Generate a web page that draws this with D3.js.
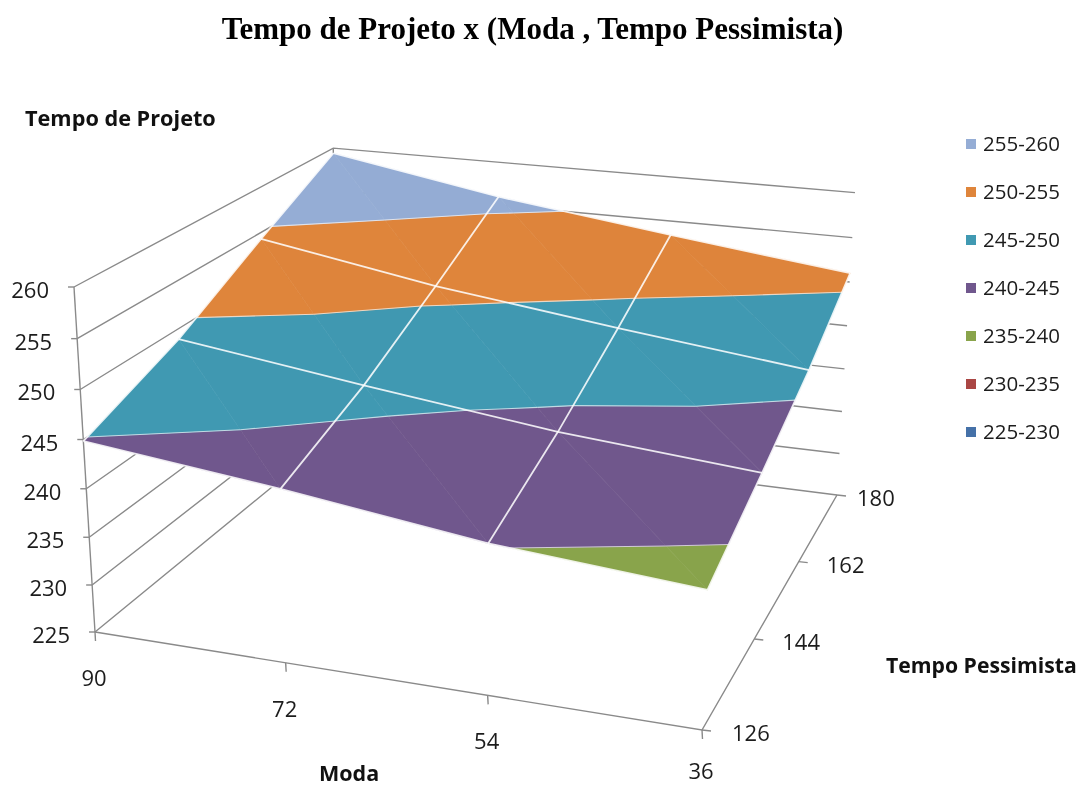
<!DOCTYPE html>
<html><head><meta charset="utf-8">
<script src="https://cdn.jsdelivr.net/npm/d3@7/dist/d3.min.js"></script>
<style>html,body{margin:0;padding:0;background:#fff}svg{display:block;filter:blur(0.35px)}</style>
</head><body><svg id="c" width="1080" height="786"></svg>
<script>
const title = "Tempo de Projeto x (Moda , Tempo Pessimista)";
const zTitle = "Tempo de Projeto", xTitle = "Moda", yTitle = "Tempo Pessimista";
const moda = [90, 72, 54, 36];
const tempo = [126, 144, 162, 180];
const valueTicks = [225, 230, 235, 240, 245, 250, 255, 260];
// one row per Tempo Pessimista, one value per Moda
const t126 = [244.85, 242.7, 240.15, 238.65];
const t144 = [248.9, 246.3, 243.9, 242.3];
const t162 = [254.3, 251.0, 248.5, 246.2];
const t180 = [259.4, 256.0, 253.4, 251.0];
const rows = [t126, t144, t162, t180];
const bandLabels = ["255-260", "250-255", "245-250", "240-245", "235-240", "230-235", "225-230"];
const bandColors = ["#95adD5", "#df853b", "#4099b2", "#70578d", "#89a44b", "#aa4644", "#4571a8"];

// ---- scales
const W = 1080, H = 786;
const uScale = d3.scalePoint().domain(moda).range([0, 1]);
const vScale = d3.scalePoint().domain(tempo).range([0, 1]);
const zScale = d3.scaleLinear().domain([225, 260]).range([0, 1]);
const bandScale = d3.scaleQuantize().domain([225, 260]).range(bandColors.slice().reverse());

// ---- perspective projection of the 3D box
const F = [[95, 632], [702, 730], [837, 495], [339, 432]]; // floor corners
const vanish = [466.5, 6732], lift = -0.05353;             // vertical vanishing point
const homog = (() => {
  const [p0, p1, p2, p3] = F;
  const dx1 = p1[0] - p2[0], dy1 = p1[1] - p2[1], dx2 = p3[0] - p2[0], dy2 = p3[1] - p2[1];
  const sx = p0[0] - p1[0] + p2[0] - p3[0], sy = p0[1] - p1[1] + p2[1] - p3[1];
  const den = dx1 * dy2 - dx2 * dy1;
  const g = (sx * dy2 - dx2 * sy) / den, h = (dx1 * sy - sx * dy1) / den;
  return { a: p1[0] - p0[0] + g * p1[0], b: p3[0] - p0[0] + h * p3[0], c: p0[0],
           d: p1[1] - p0[1] + g * p1[1], e: p3[1] - p0[1] + h * p3[1], f: p0[1], g, h };
})();
function proj(u, v, z) {
  const m = homog, k = lift * z;
  const w = 1 + m.g * u + m.h * v + k;
  return [(m.a * u + m.b * v + m.c + k * vanish[0]) / w, (m.d * u + m.e * v + m.f + k * vanish[1]) / w];
}
const P = (mo, te, val) => proj(uScale(mo), vScale(te), zScale(val));
const line = d3.line();

const svg = d3.select("#c");
svg.append("rect").attr("width", W).attr("height", H).attr("fill", "#fff");

// ---- walls
const gridCol = "#8a8a8a";
const walls = svg.append("g").attr("fill", "none").attr("stroke", gridCol).attr("stroke-width", 1.4);
const m0 = moda[0], m1 = moda[3], t0 = tempo[0], t1 = tempo[3];
valueTicks.forEach(val => {
  walls.append("path").attr("d", line([P(m0, t0, val), P(m0, t1, val), P(m1, t1, val)]));
  const a = P(m0, t0, val);
  walls.append("path").attr("d", line([a, [a[0] - 6, a[1]]]));
});
walls.append("path").attr("d", line([P(m0, t0, 225), P(m0, t0, 260)]));
walls.append("path").attr("d", line([P(m0, t1, 225), P(m0, t1, 260)]));
walls.append("path").attr("d", line([P(m0, t0, 225), P(m1, t0, 225), P(m1, t1, 225)]));
moda.forEach(mo => {
  const a = P(mo, t0, 225);
  walls.append("path").attr("d", line([a, [a[0] + 0.5, a[1] + 9]]));
});
tempo.forEach(te => {
  const a = P(m1, te, 225);
  walls.append("path").attr("d", line([a, [a[0] + 9, a[1] + 1]]));
});

// ---- surface: every cell split in two triangles, clipped to each colour band
function clip(poly, level, keepAbove) {
  const out = [];
  poly.forEach((p, i) => {
    const q = poly[(i + 1) % poly.length];
    const pIn = keepAbove ? p[2] >= level : p[2] <= level;
    const qIn = keepAbove ? q[2] >= level : q[2] <= level;
    if (pIn) out.push(p);
    if (pIn !== qIn) {
      const t = (level - p[2]) / (q[2] - p[2]);
      out.push([p[0] + t * (q[0] - p[0]), p[1] + t * (q[1] - p[1]), level]);
    }
  });
  return out;
}
const surf = svg.append("g");
const lvl = svg.append("g").attr("fill", "none").attr("stroke", "#fff").attr("stroke-opacity", 0.65).attr("stroke-width", 1.1);
const node = (i, j) => [uScale(moda[i]), vScale(tempo[j]), rows[j][i]];
const tris = [];
d3.range(3).forEach(j => d3.range(3).forEach(i => {
  tris.push({ pts: [node(i, j), node(i + 1, j), node(i, j + 1)], shade: 0 });
  tris.push({ pts: [node(i + 1, j), node(i + 1, j + 1), node(i, j + 1)], shade: 0.012 });
}));
const toXY = p => proj(p[0], p[1], zScale(p[2]));
d3.range(225, 260, 5).forEach(lo => {
  const hi = lo + 5, base = bandScale(lo + 2.5);
  tris.forEach(t => {
    const poly = clip(clip(t.pts, lo, true), hi, false);
    if (poly.length < 3) return;
    const col = d3.color(base).darker(t.shade).formatHex();
    surf.append("path").attr("d", line(poly.map(toXY)) + "Z")
      .attr("fill", col).attr("stroke", col).attr("stroke-width", 0.6);
    const seg = poly.filter(p => p[2] === hi);
    if (seg.length === 2 && hi < 260) lvl.append("path").attr("d", line(seg.map(toXY)));
  });
});

// ---- grid lines on the surface
const mesh = svg.append("g").attr("fill", "none").attr("stroke", "#fff").attr("stroke-width", 1.8).attr("stroke-opacity", 0.85);
rows.forEach((r, j) => mesh.append("path").attr("d", line(r.map((val, i) => P(moda[i], tempo[j], val)))));
moda.forEach((mo, i) => mesh.append("path").attr("d", line(rows.map((r, j) => P(mo, tempo[j], r[i])))));

// ---- text
const txt = (x, y, s, o = {}) => svg.append("text").attr("x", x).attr("y", y).text(s)
  .attr("font-family", o.family || "'Open Sans'").attr("font-size", o.size || 22)
  .attr("font-weight", o.weight || 400).attr("text-anchor", o.anchor || "start").attr("fill", o.fill || "#1c1c1c");

txt(532.5, 39, title, { family: "'Liberation Serif'", size: 31, weight: 700, anchor: "middle", fill: "#000" });
txt(25, 126, zTitle, { size: 21.7, weight: 700, fill: "#111" });
txt(319, 781, xTitle, { size: 21.5, weight: 700, fill: "#111" });
txt(886, 673, yTitle, { size: 21.2, weight: 700, fill: "#111" });

valueTicks.forEach(val => {
  const a = P(m0, t0, val);
  txt(a[0] - 25, a[1] + 11, val, { anchor: "end" });
});
moda.forEach(mo => {
  const a = P(mo, t0, 225);
  txt(a[0] - 1, Math.min(a[1] + 54, 779), mo, { anchor: "middle" });
});
const tempoOffset = d3.scaleLinear().domain([126, 144, 162, 180]).range([30, 28, 28, 20]);
tempo.forEach(te => {
  const a = P(m1, te, 225);
  txt(a[0] + tempoOffset(te), a[1] + 11, te);
});

// ---- legend
const legendY = d3.scalePoint().domain(bandLabels).range([144, 432]);
bandLabels.forEach((lab, i) => {
  const y = legendY(lab);
  svg.append("rect").attr("x", 966).attr("y", y - 5).attr("width", 10).attr("height", 10).attr("fill", bandColors[i]);
  txt(983, y + 7, lab, { size: 20.5 });
});
</script></body></html>
